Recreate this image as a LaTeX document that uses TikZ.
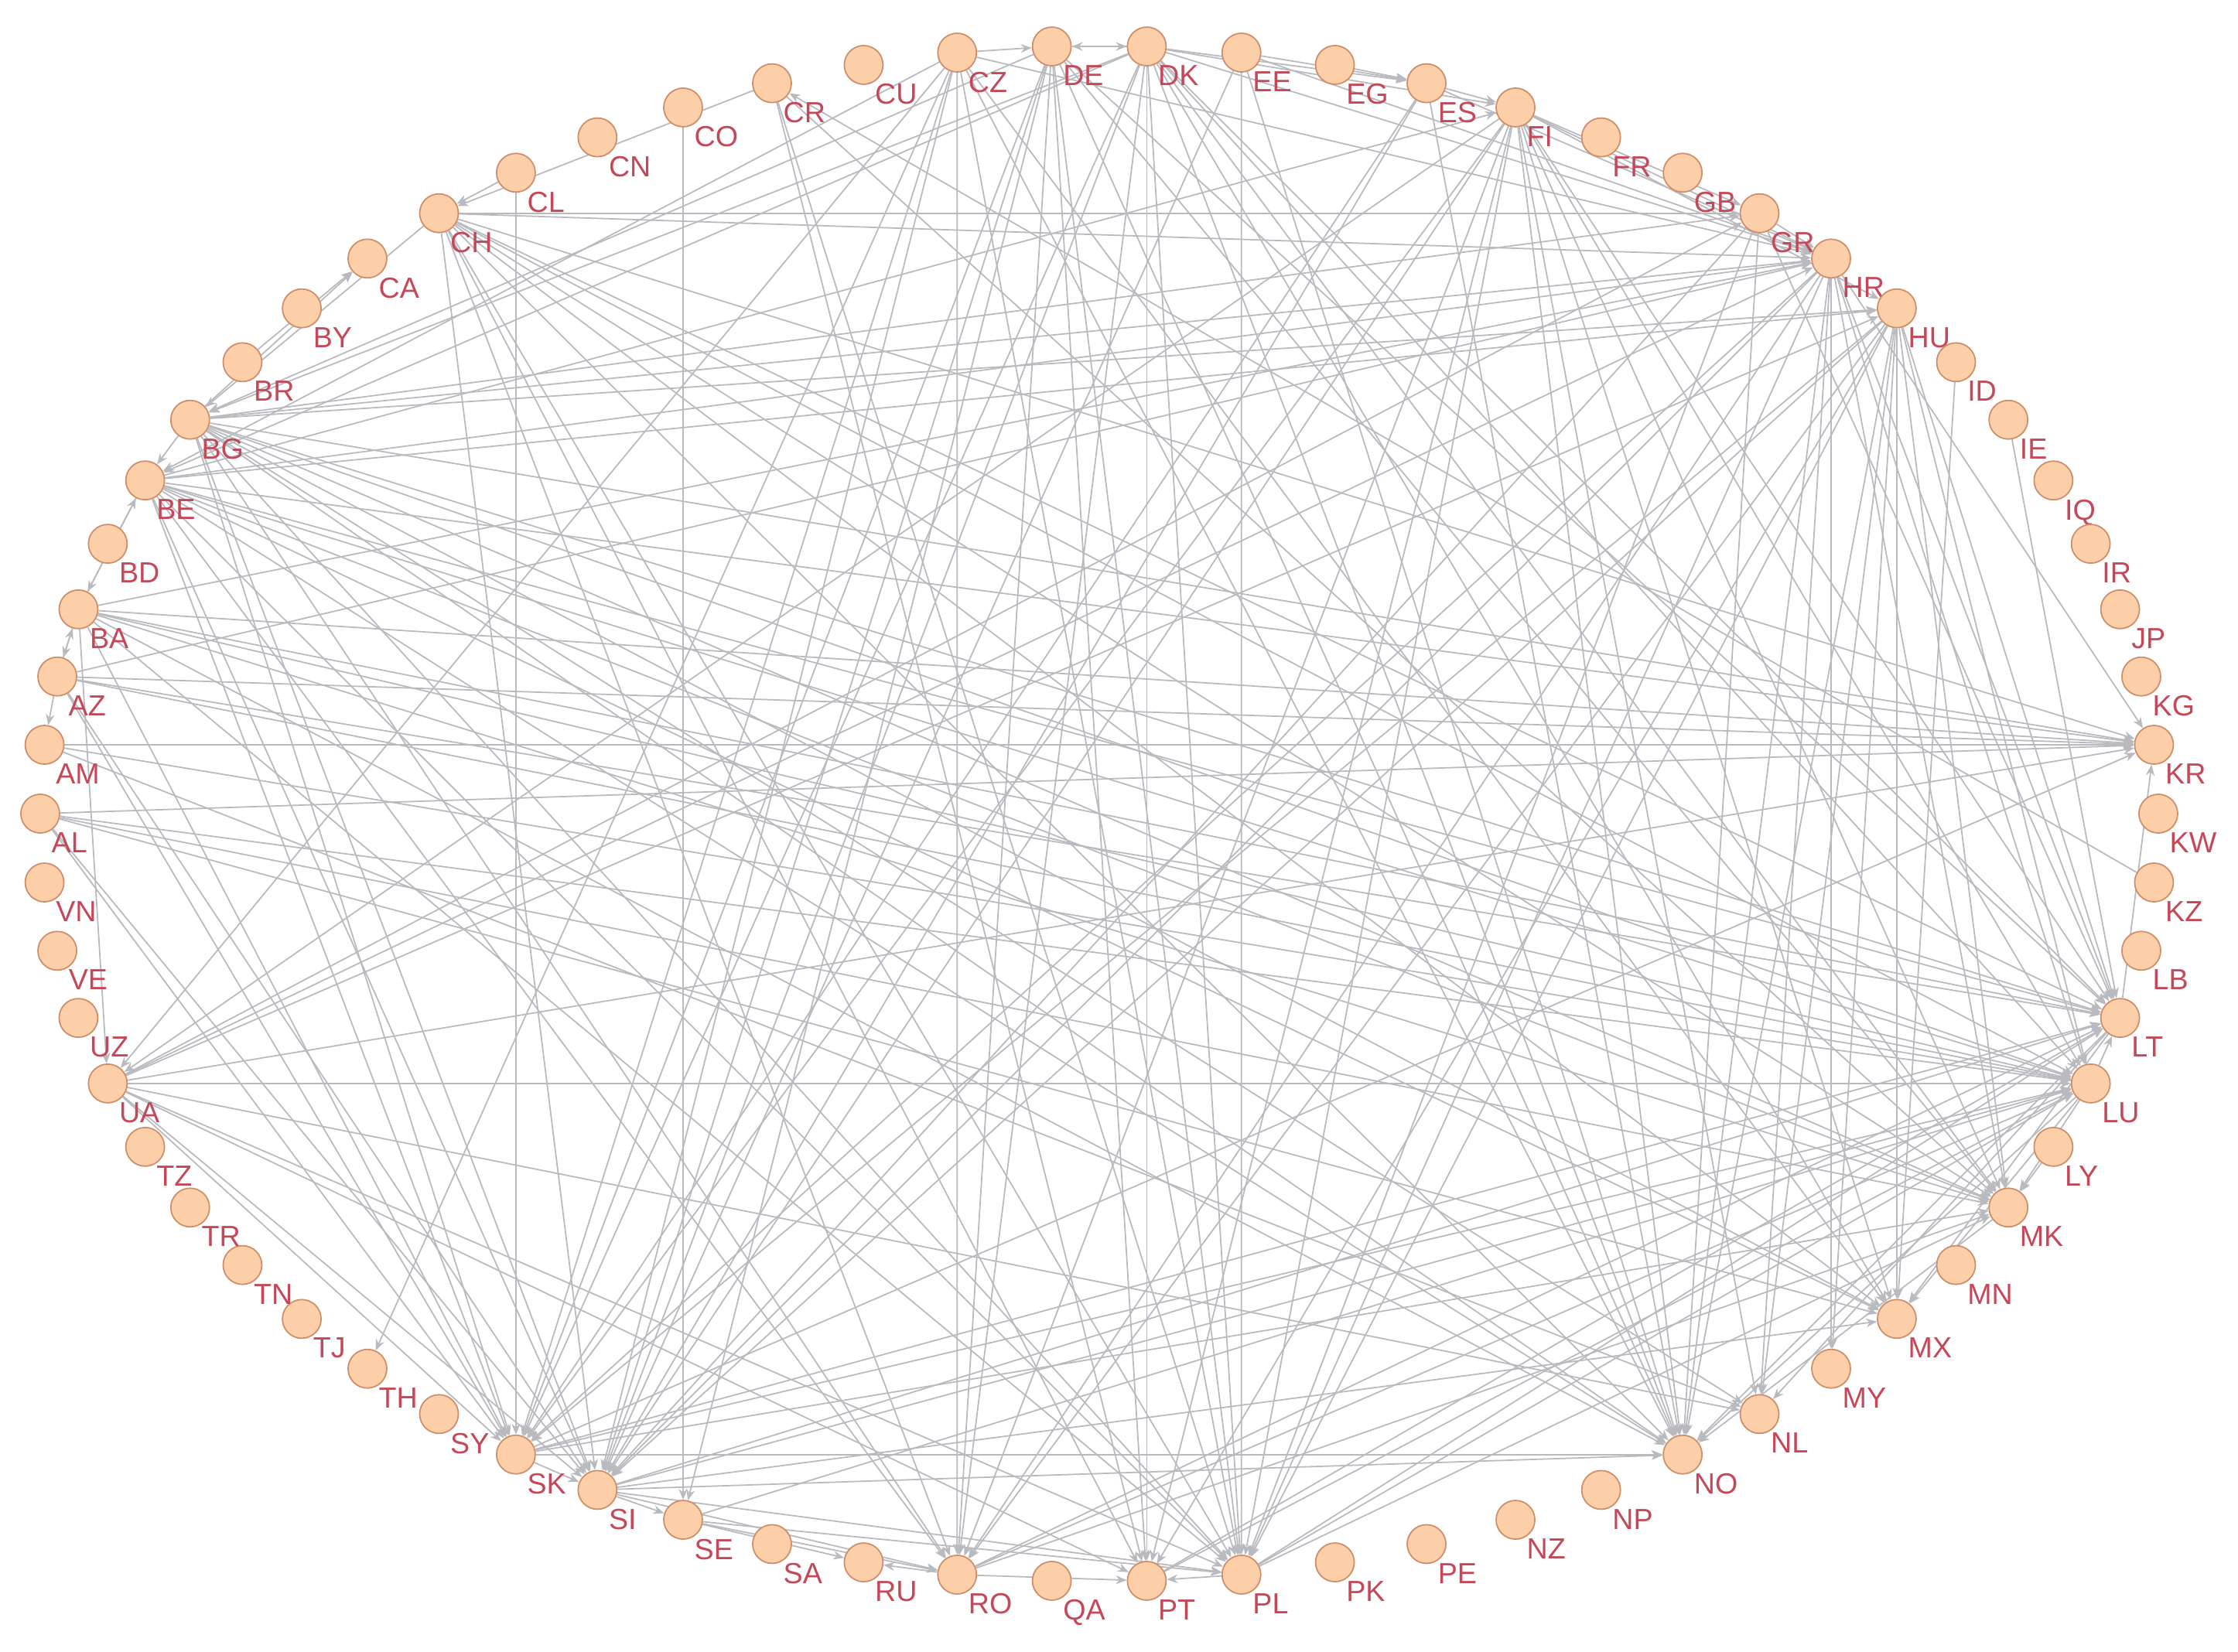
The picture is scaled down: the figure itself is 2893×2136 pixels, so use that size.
\documentclass[tikz,border=0pt]{standalone}
\usepackage{fontspec}
\setmainfont{Liberation Sans}
\usetikzlibrary{arrows.meta,calc}
\definecolor{nodefill}{RGB}{253,207,169}
\definecolor{nodeline}{RGB}{205,142,105}
\definecolor{lblc}{RGB}{196,72,88}
\definecolor{edgec}{RGB}{184,186,191}
\pgfdeclarelayer{bg}
\pgfsetlayers{bg,main}
\begin{document}
\begin{tikzpicture}[x=0.01cm,y=-0.01cm,
  country/.style={circle, draw=nodeline, fill=nodefill, line width=0.5pt, minimum size=0.5cm, inner sep=0pt},
  lbl/.style={text=lblc, inner sep=0pt, font=\fontsize{10.7}{12}\selectfont, anchor=north west},
  edge/.style={draw=edgec, line width=0.5pt, -{Stealth[length=4pt,width=3.2pt]}}]
\useasboundingbox (0,0) rectangle (2893,2136);
\foreach \n [count=\i from 0] in {AL,AM,AZ,BA,BD,BE,BG,BR,BY,CA,CH,CL,CN,CO,CR,CU,CZ,DE,DK,EE,EG,ES,FI,FR,GB,GR,HR,HU,ID,IE,IQ,IR,JP,KG,KR,KW,KZ,LB,LT,LU,LY,MK,MN,MX,MY,NL,NO,NP,NZ,PE,PK,PL,PT,QA,RO,RU,SA,SE,SI,SK,SY,TH,TJ,TN,TR,TZ,UA,UZ,VE,VN}{
  \pgfmathsetmacro\ang{180-\i*5.142857}
  \node[country] (\n) at ({1421+1369*cos(\ang)},{1052-993*sin(\ang)}) {};
  \node[lbl] (\n-l) at ($(\n)+(14,24)$) {\n};
}
\begin{pgfonlayer}{bg}
\foreach \a/\b in {CZ/DE, DE/DK, DK/DE, DK/ES, EE/ES, EG/ES, DK/FI, ES/FI, FI/HR, DK/HR, EE/HR, ES/HR, FI/GR, FI/HU, GR/HR, CL/CH, CR/CH, BR/CA, BE/BA, BA/BE, BA/AZ, AZ/BA, AZ/AM, BG/BE, LT/KR, LU/LT, LY/MK, IE/LT, ID/MX, KZ/CR, PL/PT, RO/RU, RO/PT, SI/RO, SE/RO, SK/SI, SI/SE, SE/PL, SI/PL, SE/RU, SK/NO, BA/UA, CL/SK, CO/SE, EE/PL,
CH/GR, CH/HR, CH/SI, CH/RO, CH/PL, CH/PT, CH/NO, CH/MX, CH/LU, CH/MK, CH/KR, CH/LT, CH/BG,
BG/HR, BG/HU, BG/KR, BG/LT, BG/LU, BG/MK, BG/MX, BG/NO, BG/PL, BG/SI, BG/SK, BG/RO, BG/NL, BG/GR, BG/CA,
BE/HR, BE/HU, BE/KR, BE/LT, BE/LU, BE/MX, BE/NO, BE/PL, BE/SI, BE/SK, BE/RO, BE/MK, BE/FI,
BA/KR, BA/LT, BA/LU, BA/NO, BA/PL, BA/SK, BA/MK, BA/HR,
AZ/KR, AZ/LU, AZ/SK, AZ/LT, AZ/SI, AZ/HR,
AM/KR, AM/LU, AM/NL,
AL/KR, AL/MK, AL/MX, AL/LU, AL/SK, AL/SI,
UA/LU, UA/HR, UA/HU, UA/GR, UA/KR, UA/NL, UA/PT, UA/SK, UA/SI, UA/PL,
HR/SK, HR/SI, HR/PL, HR/NO, HR/NL, HR/LT, HR/LU, HR/MK, HR/RO, HR/KR, HR/MY,
HU/SK, HU/SI, HU/PL, HU/NO, HU/NL, HU/MX, HU/LT, HU/LU, HU/MK, HU/RO, HU/PT, HU/MY,
FI/SK, FI/SI, FI/PL, FI/PT, FI/NO, FI/NL, FI/LT, FI/LU, FI/MK, FI/MX, FI/RO, FI/UA,
DK/SK, DK/SI, DK/PL, DK/RO, DK/NO, DK/MX, DK/LT, DK/LU, DK/BG, DK/BE, DK/PT, DK/MK,
DE/SK, DE/SI, DE/PL, DE/PT, DE/RO, DE/NO, DE/MK, DE/BG, DE/SE, DE/LT,
CZ/SK, CZ/SI, CZ/PL, CZ/RO, CZ/NO, CZ/UA, CZ/BE, CZ/TH, CZ/MX, CZ/HR,
CR/PL, CR/MK, CR/PT,
EE/SI, EE/NO,
ES/SK, ES/NO, ES/SI,
GR/PL, GR/SI, GR/LT, GR/NO,
SK/LU, SK/LT, SK/KR, SK/MK,
SI/LU, SI/LT, SI/MX, SI/NO,
RO/LT, RO/LU, RO/MK,
PL/LT, PL/LU, PL/MK,
LT/NO, LT/NL, LT/MX,
LU/NO, LU/MX, LU/MK,
MK/NO, PT/LU, PT/LT, SE/LU}
  \draw[edge] (\a) -- (\b);
\end{pgfonlayer}
\end{tikzpicture}
\end{document}
